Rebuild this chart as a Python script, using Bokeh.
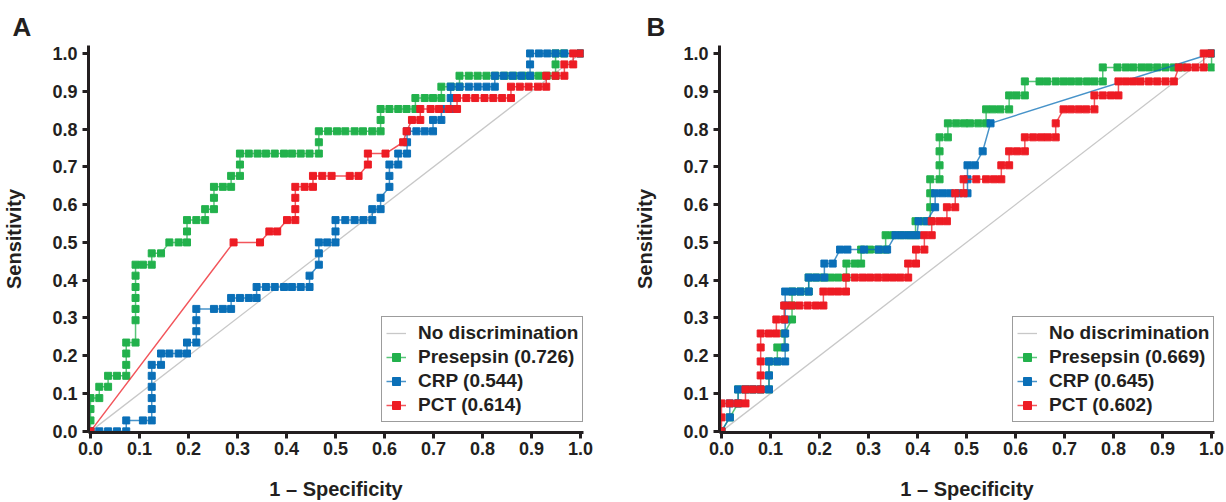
from bokeh.plotting import figure
from bokeh.layouts import row
from bokeh.models import Range1d, FixedTicker, PrintfTickFormatter, Legend, LegendItem
from bokeh.embed import file_html
from bokeh.resources import INLINE

# ---------------- data ----------------
ticks = [0.0, 0.1, 0.2, 0.3, 0.4, 0.5, 0.6, 0.7, 0.8, 0.9, 1.0]
diag_x = [0.0, 1.0]
diag_y = [0.0, 1.0]

labels_a = ["No discrimination", "Presepsin (0.726)", "CRP (0.544)", "PCT (0.614)"]
labels_b = ["No discrimination", "Presepsin (0.669)", "CRP (0.645)", "PCT (0.602)"]

# Panel A - Presepsin
a_pre_x = [0, 0, 0, 0, 0.018, 0.018, 0.036, 0.036, 0.054, 0.073, 0.073, 0.073, 0.073,
           0.092, 0.092, 0.092, 0.092, 0.092, 0.092, 0.092, 0.107, 0.125, 0.125, 0.144,
           0.161, 0.180, 0.197, 0.197, 0.197, 0.216, 0.234, 0.234, 0.252, 0.252, 0.252,
           0.270, 0.287, 0.287, 0.305, 0.305, 0.305, 0.323, 0.341, 0.358, 0.376, 0.395,
           0.411, 0.429, 0.447, 0.466, 0.466, 0.466, 0.485, 0.503, 0.520, 0.539, 0.556,
           0.575, 0.592, 0.592, 0.592, 0.610, 0.628, 0.645, 0.663, 0.663, 0.682, 0.699,
           0.716, 0.716, 0.735, 0.753, 0.753, 0.772, 0.790, 0.808, 0.826, 0.845, 0.863,
           0.882, 0.898, 0.915, 0.931, 0.949, 0.949, 0.949, 0.966, 1.0]
a_pre_y = [0, 0.029, 0.059, 0.088, 0.088, 0.118, 0.118, 0.147, 0.147, 0.147, 0.176, 0.206, 0.235,
           0.235, 0.294, 0.324, 0.353, 0.382, 0.412, 0.441, 0.441, 0.441, 0.471, 0.471,
           0.500, 0.500, 0.500, 0.529, 0.559, 0.559, 0.559, 0.588, 0.588, 0.618, 0.647,
           0.647, 0.647, 0.676, 0.676, 0.706, 0.735, 0.735, 0.735, 0.735, 0.735, 0.735,
           0.735, 0.735, 0.735, 0.735, 0.765, 0.794, 0.794, 0.794, 0.794, 0.794, 0.794,
           0.794, 0.794, 0.824, 0.853, 0.853, 0.853, 0.853, 0.853, 0.882, 0.882, 0.882,
           0.882, 0.912, 0.912, 0.912, 0.941, 0.941, 0.941, 0.941, 0.941, 0.941, 0.941,
           0.941, 0.941, 0.941, 0.941, 0.941, 0.971, 1.0, 1.0, 1.0]

# Panel A - CRP
a_crp_x = [0, 0.018, 0.036, 0.054, 0.073, 0.073, 0.107, 0.125, 0.125, 0.125, 0.125, 0.125, 0.125,
           0.144, 0.144, 0.161, 0.180, 0.197, 0.197, 0.216, 0.216, 0.216, 0.216, 0.252,
           0.270, 0.287, 0.287, 0.305, 0.323, 0.339, 0.339, 0.358, 0.376, 0.395, 0.411,
           0.429, 0.447, 0.447, 0.466, 0.466, 0.466, 0.483, 0.500, 0.500, 0.500, 0.520,
           0.539, 0.557, 0.575, 0.575, 0.592, 0.592, 0.610, 0.610, 0.610, 0.628, 0.628,
           0.646, 0.646, 0.646, 0.665, 0.682, 0.699, 0.699, 0.716, 0.716, 0.735, 0.735,
           0.735, 0.753, 0.772, 0.790, 0.808, 0.825, 0.825, 0.843, 0.861, 0.879, 0.897,
           0.897, 0.897, 0.915, 0.932, 0.949, 0.967, 1.0]
a_crp_y = [0, 0, 0, 0, 0, 0.029, 0.029, 0.029, 0.059, 0.088, 0.118, 0.147, 0.176,
           0.176, 0.206, 0.206, 0.206, 0.206, 0.235, 0.235, 0.265, 0.294, 0.324, 0.324,
           0.324, 0.324, 0.353, 0.353, 0.353, 0.353, 0.382, 0.382, 0.382, 0.382, 0.382,
           0.382, 0.382, 0.412, 0.441, 0.471, 0.500, 0.500, 0.500, 0.529, 0.559, 0.559,
           0.559, 0.559, 0.559, 0.588, 0.588, 0.618, 0.647, 0.676, 0.706, 0.706, 0.735,
           0.735, 0.765, 0.794, 0.794, 0.794, 0.794, 0.824, 0.824, 0.853, 0.853, 0.882,
           0.912, 0.912, 0.912, 0.912, 0.912, 0.912, 0.941, 0.941, 0.941, 0.941, 0.941,
           0.971, 1.0, 1.0, 1.0, 1.0, 1.0, 1.0]

# Panel A - PCT
a_pct_x = [0, 0.292, 0.346, 0.365, 0.381, 0.401, 0.418, 0.418, 0.418, 0.418, 0.437, 0.454,
           0.454, 0.473, 0.492, 0.529, 0.547, 0.566, 0.566, 0.602, 0.638, 0.645, 0.656,
           0.673, 0.673, 0.694, 0.711, 0.731, 0.748, 0.748, 0.767, 0.785, 0.804, 0.822,
           0.840, 0.858, 0.858, 0.876, 0.894, 0.913, 0.930, 0.930, 0.949, 0.967, 0.967,
           0.985, 0.985, 1.0]
a_pct_y = [0, 0.500, 0.500, 0.529, 0.529, 0.559, 0.559, 0.588, 0.618, 0.647, 0.647, 0.647,
           0.676, 0.676, 0.676, 0.676, 0.676, 0.706, 0.735, 0.735, 0.765, 0.794, 0.824,
           0.824, 0.853, 0.853, 0.853, 0.853, 0.853, 0.882, 0.882, 0.882, 0.882, 0.882,
           0.882, 0.882, 0.912, 0.912, 0.912, 0.912, 0.912, 0.941, 0.941, 0.941, 0.971,
           0.971, 1.0, 1.0]

# Panel B - Presepsin
b_pre_x = [0, 0.017, 0.034, 0.034, 0.049, 0.064, 0.080, 0.097, 0.097, 0.097, 0.114, 0.114,
           0.128, 0.128, 0.144, 0.144, 0.144, 0.161, 0.178, 0.178, 0.193, 0.208, 0.223,
           0.238, 0.255, 0.255, 0.272, 0.285, 0.285, 0.303, 0.320, 0.335, 0.335, 0.350,
           0.366, 0.382, 0.396, 0.396, 0.412, 0.426, 0.426, 0.426, 0.426, 0.445, 0.445,
           0.445, 0.445, 0.462, 0.462, 0.479, 0.495, 0.507, 0.524, 0.540, 0.540, 0.554,
           0.569, 0.587, 0.587, 0.602, 0.619, 0.619, 0.649, 0.664, 0.682, 0.698, 0.713,
           0.729, 0.746, 0.761, 0.778, 0.778, 0.808, 0.825, 0.840, 0.857, 0.872, 0.889,
           0.906, 0.923, 0.940, 1.0, 1.0]
b_pre_y = [0, 0.037, 0.074, 0.111, 0.111, 0.111, 0.111, 0.111, 0.148, 0.185, 0.185, 0.222,
           0.222, 0.259, 0.296, 0.333, 0.370, 0.370, 0.370, 0.407, 0.407, 0.407, 0.407,
           0.407, 0.407, 0.444, 0.444, 0.444, 0.481, 0.481, 0.481, 0.481, 0.519, 0.519,
           0.519, 0.519, 0.519, 0.556, 0.556, 0.556, 0.593, 0.630, 0.667, 0.667, 0.704,
           0.741, 0.778, 0.778, 0.815, 0.815, 0.815, 0.815, 0.815, 0.815, 0.852, 0.852,
           0.852, 0.852, 0.889, 0.889, 0.889, 0.926, 0.926, 0.926, 0.926, 0.926, 0.926,
           0.926, 0.926, 0.926, 0.926, 0.963, 0.963, 0.963, 0.963, 0.963, 0.963, 0.963,
           0.963, 0.963, 0.963, 0.963, 1.0]

# Panel B - CRP
b_crp_x = [0, 0.017, 0.017, 0.034, 0.034, 0.049, 0.064, 0.080, 0.097, 0.097, 0.097, 0.114,
           0.130, 0.130, 0.130, 0.130, 0.130, 0.130, 0.145, 0.161, 0.178, 0.178, 0.193,
           0.210, 0.210, 0.227, 0.242, 0.257, 0.291, 0.321, 0.338, 0.355, 0.370, 0.385,
           0.399, 0.402, 0.419, 0.436, 0.436, 0.451, 0.466, 0.484, 0.502, 0.502, 0.502,
           0.517, 0.533, 0.549, 1.0]
b_crp_y = [0, 0.037, 0.074, 0.074, 0.111, 0.111, 0.111, 0.111, 0.111, 0.148, 0.185, 0.185,
           0.185, 0.222, 0.259, 0.296, 0.333, 0.370, 0.370, 0.370, 0.370, 0.407, 0.407,
           0.407, 0.444, 0.444, 0.481, 0.481, 0.481, 0.481, 0.481, 0.519, 0.519, 0.519,
           0.519, 0.556, 0.556, 0.593, 0.630, 0.630, 0.630, 0.630, 0.630, 0.667, 0.704,
           0.704, 0.741, 0.815, 1.0]

# Panel B - PCT
b_pct_x = [0, 0, 0, 0.017, 0.034, 0.049, 0.049, 0.064, 0.080, 0.080, 0.080, 0.080, 0.080,
           0.097, 0.112, 0.112, 0.128, 0.128, 0.143, 0.159, 0.176, 0.193, 0.208, 0.208,
           0.223, 0.238, 0.254, 0.254, 0.272, 0.288, 0.303, 0.319, 0.335, 0.350, 0.365,
           0.381, 0.381, 0.397, 0.397, 0.414, 0.414, 0.429, 0.429, 0.445, 0.460, 0.460,
           0.477, 0.477, 0.494, 0.494, 0.520, 0.540, 0.556, 0.571, 0.571, 0.587, 0.587,
           0.603, 0.619, 0.619, 0.636, 0.652, 0.666, 0.682, 0.682, 0.698, 0.713, 0.729,
           0.744, 0.761, 0.761, 0.778, 0.795, 0.810, 0.810, 0.825, 0.840, 0.855, 0.872,
           0.889, 0.906, 0.923, 0.933, 0.950, 0.967, 0.984, 0.984, 0.998]
b_pct_y = [0, 0.037, 0.074, 0.074, 0.074, 0.074, 0.111, 0.111, 0.111, 0.148, 0.185, 0.222,
           0.259, 0.259, 0.259, 0.296, 0.296, 0.333, 0.333, 0.333, 0.333, 0.333, 0.333,
           0.370, 0.370, 0.370, 0.370, 0.407, 0.407, 0.407, 0.407, 0.407, 0.407, 0.407,
           0.407, 0.407, 0.444, 0.444, 0.481, 0.481, 0.519, 0.519, 0.556, 0.556, 0.556,
           0.593, 0.593, 0.630, 0.630, 0.667, 0.667, 0.667, 0.667, 0.667, 0.704, 0.704,
           0.741, 0.741, 0.741, 0.778, 0.778, 0.778, 0.778, 0.778, 0.815, 0.852, 0.852,
           0.852, 0.852, 0.852, 0.889, 0.889, 0.889, 0.889, 0.926, 0.926, 0.926, 0.926,
           0.926, 0.926, 0.926, 0.926, 0.963, 0.963, 0.963, 0.963, 1.0, 1.0]

# ---------------- styling ----------------
GREEN = "#22b14c"
BLUE = "#0a6fb7"
RED = "#ed1c24"
GRAY = "#c8c8c8"
INK = "#231f20"
FONT = "Liberation Sans"


def make_panel(letter, letter_offset, series, labels, width, border_left, border_right):
    p = figure(width=width, height=502,
               x_range=Range1d(-0.004, 1.006), y_range=Range1d(-0.003, 1.021),
               output_backend="svg", toolbar_location=None,
               min_border_left=border_left, min_border_right=border_right,
               min_border_top=45, min_border_bottom=69,
               x_axis_label="1 \u2013 Specificity", y_axis_label="Sensitivity")
    p.xgrid.visible = False
    p.ygrid.visible = False
    p.outline_line_color = None
    p.background_fill_color = "white"
    p.border_fill_color = "white"

    p.title.text = letter
    p.title.text_font = FONT
    p.title.text_font_style = "bold"
    p.title.text_font_size = "26px"
    p.title.text_color = INK
    p.title.align = "left"
    p.title.offset = letter_offset
    p.title.standoff = 8

    for ax in (p.xaxis[0], p.yaxis[0]):
        ax.ticker = FixedTicker(ticks=ticks)
        ax.formatter = PrintfTickFormatter(format="%.1f")
        ax.axis_line_width = 3
        ax.axis_line_color = INK
        ax.major_tick_line_width = 3
        ax.major_tick_line_color = INK
        ax.major_tick_out = 6
        ax.major_tick_in = 0
        ax.minor_tick_line_color = None
        ax.major_label_text_font = FONT
        ax.major_label_text_font_style = "bold"
        ax.major_label_text_font_size = "18px"
        ax.major_label_text_color = INK
        ax.axis_label_text_font = FONT
        ax.axis_label_text_font_style = "bold"
        ax.axis_label_text_font_size = "20px"
        ax.axis_label_text_color = INK
    p.xaxis.major_label_standoff = 3
    p.yaxis.major_label_standoff = 5
    p.xaxis.axis_label_standoff = 20
    p.yaxis.axis_label_standoff = 24

    items = []
    rd = p.line(diag_x, diag_y, line_color=GRAY, line_width=1.3)
    items.append(LegendItem(label=labels[0], renderers=[rd]))
    for (xs, ys, col), lab in zip(series, labels[1:]):
        rl = p.line(xs, ys, line_color=col, line_width=1.5, line_alpha=0.75)
        rs = p.scatter(xs, ys, marker="square", size=7, fill_color=col, line_color=col)
        items.append(LegendItem(label=lab, renderers=[rl, rs]))

    legend = Legend(items=items, location=(293, 10))
    legend.label_text_font = FONT
    legend.label_text_font_style = "bold"
    legend.label_text_font_size = "19px"
    legend.label_text_color = INK
    legend.border_line_color = "#3a3a3a"
    legend.border_line_width = 1
    legend.background_fill_color = "white"
    legend.background_fill_alpha = 1.0
    legend.padding = 4
    legend.spacing = 0
    legend.margin = 0
    legend.glyph_width = 20
    legend.glyph_height = 24
    legend.label_height = 24
    legend.label_standoff = 12
    p.add_layout(legend, "center")
    return p


pA = make_panel("A", -76,
                [(a_pre_x, a_pre_y, GREEN), (a_crp_x, a_crp_y, BLUE), (a_pct_x, a_pct_y, RED)],
                labels_a, 625, 88, 42)
pB = make_panel("B", -73,
                [(b_pre_x, b_pre_y, GREEN), (b_crp_x, b_crp_y, BLUE), (b_pct_x, b_pct_y, RED)],
                labels_b, 601, 94, 12)

layout = row(pA, pB)
open("out.html", "w").write(file_html(layout, INLINE))
